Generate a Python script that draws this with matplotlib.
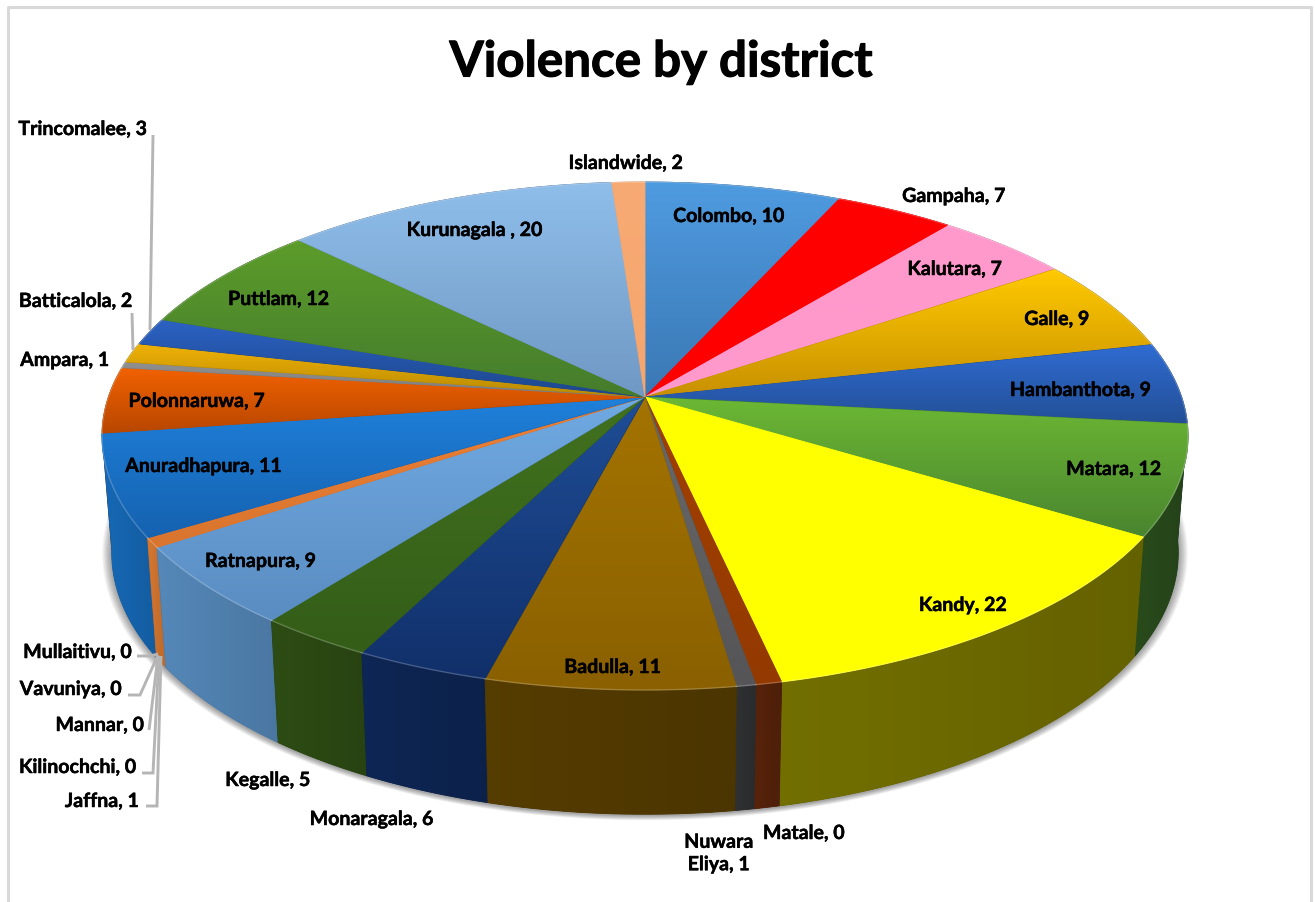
import numpy as np
import matplotlib
matplotlib.use("Agg")
import matplotlib.pyplot as plt
import matplotlib.patheffects as pe
from matplotlib.colors import to_rgb
from matplotlib.patches import Polygon

TITLE = "Violence by district"
districts = ["Colombo", "Gampaha", "Kalutara", "Galle", "Hambanthota", "Matara", "Kandy", "Matale",
             "Nuwara\nEliya", "Badulla", "Monaragala", "Kegalle", "Ratnapura", "Mullaitivu", "Vavuniya",
             "Mannar", "Kilinochchi", "Jaffna", "Anuradhapura", "Polonnaruwa", "Ampara", "Batticalola",
             "Trincomalee", "Puttlam", "Kurunagala ", "Islandwide"]
counts = [10, 7, 7, 9, 9, 12, 22, 0, 1, 11, 6, 5, 9, 0, 0, 0, 0, 1, 11, 7, 1, 2, 3, 12, 20, 2]
# Slice sizes as seen on the picture (degrees of the circle)
slice_sizes = [24.4, 14.9, 16.7, 21.4, 18.7, 25.2, 46.2, 2.4, 1.8, 23.0, 12.4, 10.6, 18.6,
               0, 0, 0, 0, 2.2, 23.3, 15.1, 1.4, 4.5, 6.3, 25.3, 41.5, 4.1]
top_light = ["#4f9be0", "#ff0000", "#ff99cc", "#ffca00", "#2f6cd2", "#6cb834", "#ffff00", "#a33f00",
             "#6a6a6a", "#a47400", "#1f4d96", "#41721f", "#70aae2", "#000000", "#000000", "#000000",
             "#000000", "#ee8035", "#1f80da", "#f26200", "#909090", "#f0b208", "#2c62c4", "#5c9c2a",
             "#8fbeea", "#f8aa74"]
top_dark = ["#3a78b4", "#ff0000", "#ff99cc", "#c89000", "#234f96", "#4a852f", "#ffff00", "#933a00",
            "#555558", "#8a6000", "#11306a", "#345d18", "#5a8dc2", "#000000", "#000000", "#000000",
            "#000000", "#d9752f", "#1562b0", "#b84700", "#7d7d7d", "#b98a00", "#1d478c", "#457c2d",
            "#7098c4", "#f5a66e"]
wall_colors = ["#2c5f92", "#7a0000", "#7a4a62", "#7a5f00", "#1a3a70", "#27471a", "#6c6900", "#53210a",
               "#2d2e30", "#513900", "#0d2450", "#2b4813", "#5080ae", "#000000", "#000000", "#000000",
               "#000000", "#c9702e", "#1563ac", "#8a3a00", "#555555", "#8a6a00", "#173a70", "#2e5016",
               "#4a6f90", "#b37a50"]
label_centers = [(729, 216), (954, 196), (955, 269), (1057, 319), (1081, 390), (1114, 469), (963, 605),
                 (804, 833), (719, 853), (613, 667), (372, 819), (268, 780), (261, 561), (78, 652),
                 (71, 689), (100, 725), (78, 767), (102, 801), (204, 466), (197, 401), (65, 360),
                 (76, 301), (83, 129), (279, 299), (475, 230), (626, 163)]
leaders = [[(137, 656), (150, 656), (158, 654)],
           [(128, 695), (140, 695), (158, 655)],
           [(149, 730), (158, 656)],
           [(142, 773), (153, 773), (159, 656)],
           [(146, 806), (157, 806), (161, 656)],
           [(153, 135), (150, 330)],
           [(132, 313), (133, 350)]]

# Projection of the tilted disc onto the page
CX, CY, A, B, K = 645.0, 397.0, 536.6, 248.0, 0.1536
DEPTH_X, DEPTH_Y, DROP = 0.982, 1.03, 115.5


def top_rim(deg):
    t = np.radians(deg)
    u, v = np.sin(t), np.cos(t)
    d = 1 + K * v
    return CX + A * u / d, CY - B * v / d


def bottom_rim(deg):
    x, y = top_rim(deg)
    return CX + (x - CX) * DEPTH_X, CY + (y - CY) * DEPTH_Y + DROP


def shade(color, f):
    return tuple(min(1, c * f) for c in to_rgb(color))


def grad_fill(ax, pts, c1, c2, vertical, z):
    pts = np.asarray(pts)
    poly = Polygon(pts, closed=True, facecolor=to_rgb(c2), edgecolor=to_rgb(c2), lw=0.6, zorder=z)
    ax.add_patch(poly)
    x0, y0 = pts.min(axis=0)
    x1, y1 = pts.max(axis=0)
    ramp = np.linspace(0, 1, 128)[..., None]
    rgb = (1 - ramp) * np.array(to_rgb(c1)) + ramp * np.array(to_rgb(c2))
    img = rgb[:, None, :] if vertical else rgb[None, :, :]
    im = ax.imshow(img, extent=(x0, x1, y1, y0), origin="upper", aspect="auto",
                   interpolation="bilinear", zorder=z + 0.01)
    im.set_clip_path(poly)


fig = plt.figure(figsize=(13.15, 9.02), dpi=100, facecolor="white")
ax = fig.add_axes([0, 0, 1, 1])
plt.rcParams["font.family"] = ["Lato", "DejaVu Sans"]

# frame of the chart area
ax.plot([8, 8, 1311, 1311], [902, 7, 7, 902], color="#d9d9d9", lw=2.2, zorder=0)

full = np.linspace(0, 360, 721)
# soft shadow under the pie
bx, by = bottom_rim(full)
bcx, bcy = bx.mean(), by.mean()
for i in range(1, 9):
    s = 1 + i * 0.0022
    ax.fill(bcx + (bx - bcx) * s, bcy + (by - bcy) * s + 1, color="black", alpha=0.05, lw=0, zorder=1)

edges = np.concatenate([[0], np.cumsum(slice_sizes)])
visible = [i for i, w in enumerate(slice_sizes) if w > 0]

# side walls, far ones first
order = sorted(visible, key=lambda i: -np.cos(np.radians((edges[i] + edges[i + 1]) / 2)))
for n, i in enumerate(order):
    a = np.linspace(edges[i], edges[i + 1], 80)
    tx, ty = top_rim(a)
    ux, uy = bottom_rim(a[::-1])
    pts = np.column_stack([np.r_[tx, ux], np.r_[ty, uy]])
    grad_fill(ax, pts, shade(wall_colors[i], 1.06), shade(wall_colors[i], 0.93), False, 2 + n * 0.05)

# top surface
for i in visible:
    a = np.linspace(edges[i], edges[i + 1], 80)
    tx, ty = top_rim(a)
    pts = np.column_stack([np.r_[CX, tx], np.r_[CY, ty]])
    grad_fill(ax, pts, top_light[i], top_dark[i], True, 5 + i * 0.05)
    ax.plot(tx, ty, color="white", alpha=0.22, lw=1.0, zorder=7)

# leader lines
for line in leaders:
    xs, ys = zip(*line)
    ax.plot(xs, ys, color="#b5b5b5", lw=2.1, solid_capstyle="butt", solid_joinstyle="miter", zorder=8)

# data labels
for name, c, (x, y) in zip(districts, counts, label_centers):
    t = ax.text(x, y, f"{name}, {c}", ha="center", va="center", fontsize=14.1, fontweight="bold",
                color="black", linespacing=1.15, zorder=9)
    t.set_path_effects([pe.withStroke(linewidth=0.35, foreground="black")])

tt = ax.text(661, 62, TITLE, ha="center", va="center", fontsize=35.5, fontweight="bold", color="black", zorder=9)
tt.set_path_effects([pe.withStroke(linewidth=0.8, foreground="black")])

ax.set_xlim(0, 1315)
ax.set_ylim(902, 0)
ax.axis("off")
fig.savefig("out.png", dpi=100, facecolor="white")
